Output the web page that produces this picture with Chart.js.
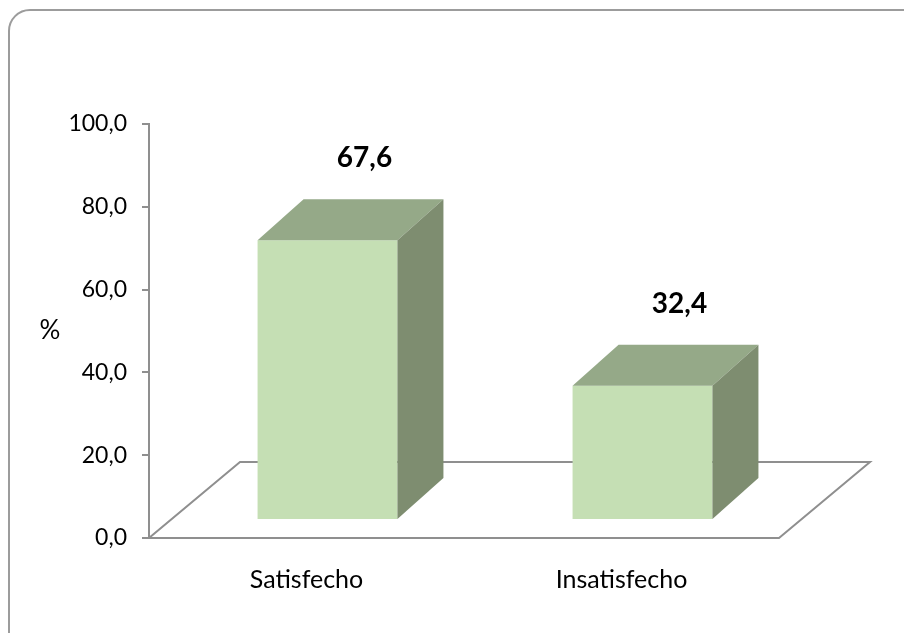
<!DOCTYPE html>
<html>
<head>
<meta charset="utf-8">
<script src="https://cdn.jsdelivr.net/npm/chart.js@4.4.1/dist/chart.umd.min.js"></script>
<style>
  html, body { margin: 0; padding: 0; background: #fff; }
  #wrap { position: relative; width: 904px; height: 633px; overflow: hidden; }
  #marco { position: absolute; left: 8px; top: 9px; width: 930px; height: 660px; border: 2px solid #9c9c9c; border-radius: 22px; box-sizing: border-box; }
  canvas { position: absolute; left: 0; top: 0; }
</style>
</head>
<body>
<div id="wrap">
  <div id="marco"></div>
  <canvas id="graficoSatisfaccion" width="904" height="633"></canvas>
</div>
<script>
const categorias = ['Satisfecho', 'Insatisfecho'];
const porcentajes = [67.6, 32.4];
const ticksY = [0, 20, 40, 60, 80, 100];

// desplazamientos del efecto 3D (px)
const frente = { dx: 21, dy: -18 };
const fondoBarra = { dx: 46, dy: -41 };
const fondoPiso = { dx: 91, dy: -76 };

const colores = { frente: '#c5dfb4', tapa: '#95a988', lado: '#7e8d70', linea: '#8f8f8f' };
const fuente = 'Lato, "Open Sans", sans-serif';

const formato = v => v.toFixed(1).replace('.', ',');

const efecto3D = {
  id: 'efecto3D',
  beforeDatasetsDraw(chart) {
    const { ctx, chartArea, scales: { y } } = chart;
    const y0 = y.getPixelForValue(0);
    // piso
    ctx.save();
    ctx.strokeStyle = colores.linea;
    ctx.lineWidth = 2;
    ctx.beginPath();
    ctx.moveTo(chartArea.left, y0);
    ctx.lineTo(chartArea.right, y0);
    ctx.lineTo(chartArea.right + fondoPiso.dx, y0 + fondoPiso.dy);
    ctx.lineTo(chartArea.left + fondoPiso.dx, y0 + fondoPiso.dy);
    ctx.closePath();
    ctx.stroke();
    ctx.restore();
    // las caras frontales se dibujan corridas hacia el fondo
    ctx.save();
    ctx.translate(frente.dx, frente.dy);
  },
  afterDatasetsDraw(chart) {
    const { ctx, scales: { y } } = chart;
    ctx.restore();
    const { dx, dy } = fondoBarra;
    chart.getDatasetMeta(0).data.forEach((bar, i) => {
      const l = bar.x - bar.width / 2 + frente.dx;
      const r = bar.x + bar.width / 2 + frente.dx;
      const t = bar.y + frente.dy;
      const b = bar.base + frente.dy;
      ctx.save();
      // tapa
      ctx.fillStyle = colores.tapa;
      ctx.beginPath();
      ctx.moveTo(l, t); ctx.lineTo(r, t); ctx.lineTo(r + dx, t + dy); ctx.lineTo(l + dx, t + dy);
      ctx.closePath(); ctx.fill();
      // lado
      ctx.fillStyle = colores.lado;
      ctx.beginPath();
      ctx.moveTo(r, t); ctx.lineTo(r + dx, t + dy); ctx.lineTo(r + dx, b + dy); ctx.lineTo(r, b);
      ctx.closePath(); ctx.fill();
      // etiqueta de valor
      ctx.fillStyle = '#000';
      ctx.font = 'bold 28px ' + fuente;
      ctx.textAlign = 'center';
      ctx.textBaseline = 'middle';
      ctx.fillText(formato(porcentajes[i]), bar.x + 58, y.getPixelForValue(porcentajes[i]) - 100);
      ctx.restore();
    });
  },
  afterDraw(chart) {
    const { ctx, chartArea } = chart;
    ctx.save();
    ctx.fillStyle = '#000';
    ctx.font = '26px ' + fuente;
    ctx.textAlign = 'center';
    ctx.textBaseline = 'middle';
    ctx.fillText('%', chartArea.left - 99, (chartArea.top + chartArea.bottom) / 2);
    ctx.restore();
  }
};

new Chart(document.getElementById('graficoSatisfaccion'), {
  type: 'bar',
  data: {
    labels: categorias,
    datasets: [{
      data: porcentajes,
      backgroundColor: colores.frente,
      borderWidth: 0,
      barPercentage: 0.444,
      categoryPercentage: 1
    }]
  },
  options: {
    responsive: false,
    animation: false,
    layout: { padding: { top: 124, right: 125, left: 0, bottom: 0 } },
    plugins: { legend: { display: false }, tooltip: { enabled: false } },
    scales: {
      x: {
        afterFit: s => { s.height = 95; },
        grid: { display: false, drawTicks: false },
        border: { display: false },
        ticks: { color: '#000', font: { family: fuente, size: 25 }, padding: 27 }
      },
      y: {
        min: 0,
        max: 100,
        afterFit: s => { s.width = 149; },
        afterBuildTicks: s => { s.ticks = ticksY.map(v => ({ value: v })); },
        grid: { drawOnChartArea: false, tickLength: 7, color: colores.linea, lineWidth: 2 },
        border: { color: colores.linea, width: 2 },
        ticks: { color: '#000', font: { family: fuente, size: 23 }, padding: 15, callback: v => formato(v) }
      }
    }
  },
  plugins: [efecto3D]
});
</script>
</body>
</html>
